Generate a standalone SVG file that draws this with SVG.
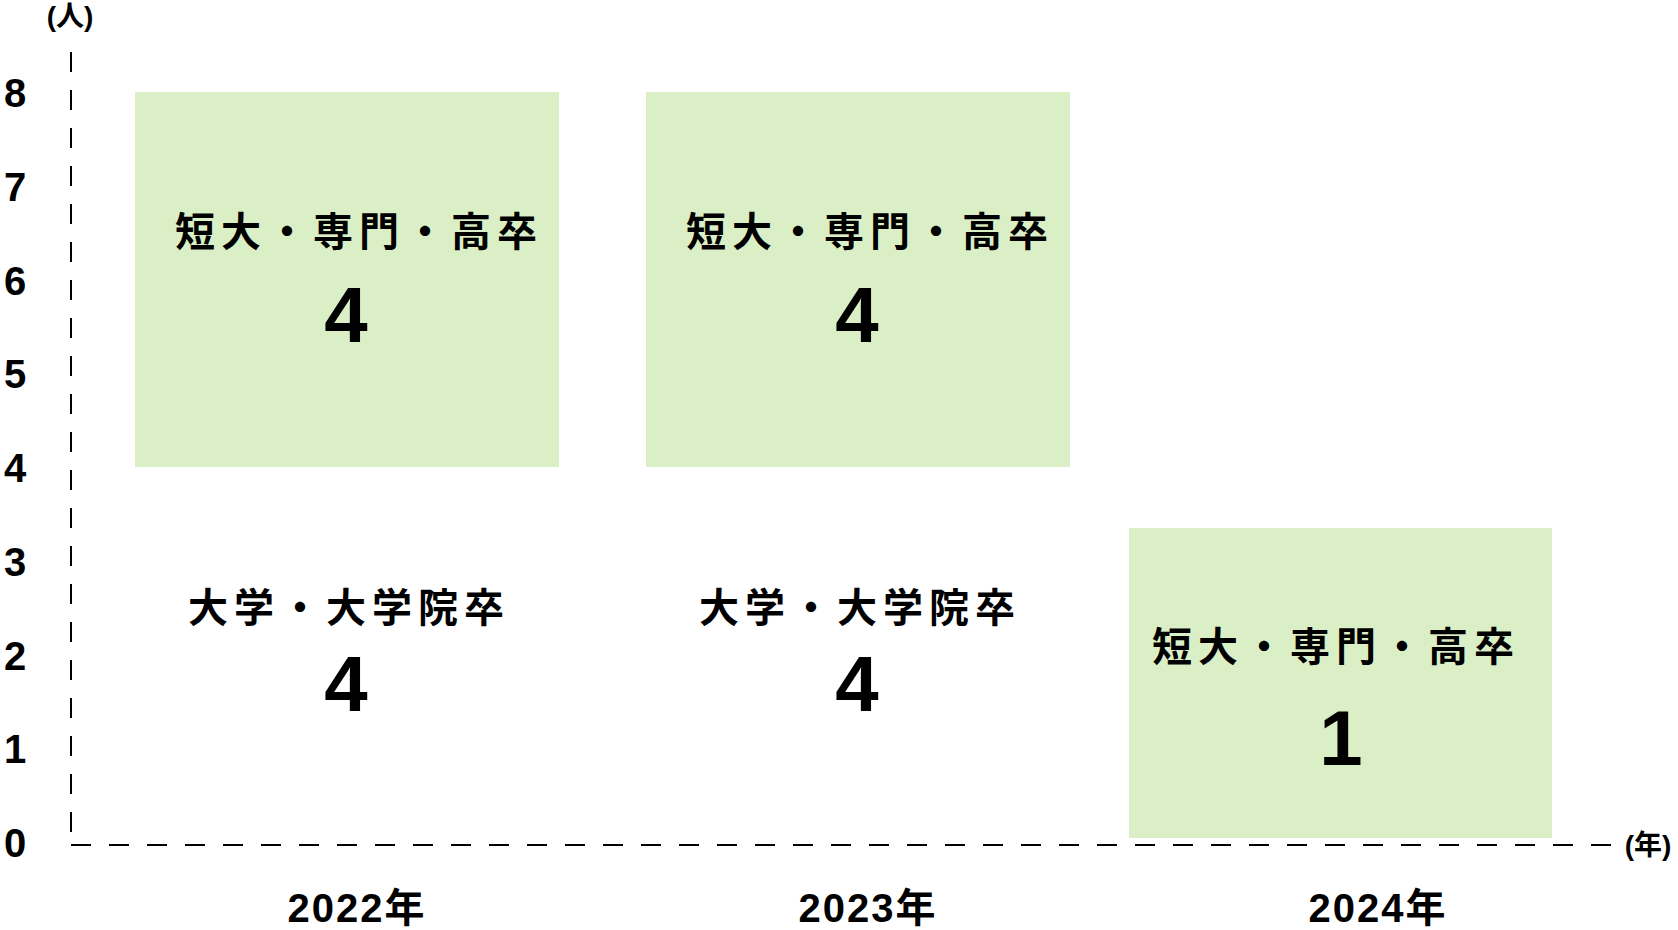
<svg xmlns="http://www.w3.org/2000/svg" width="1678" height="930" viewBox="0 0 1678 930">
<style>
.t{font-family:"Liberation Sans","Noto Sans CJK JP",sans-serif;font-weight:bold;fill:#000;text-anchor:middle}
.tick{font-size:40px}
.lab{font-size:40px;letter-spacing:6px}
.num{font-size:78px}
.yr{font-size:40px;letter-spacing:2px}
.box{fill:#daefc5}
.ax{stroke:#000;stroke-width:2;stroke-dasharray:20 18;fill:none}
</style>
<rect width="1678" height="930" fill="#fff"/>
<g id="axes">
<line class="ax" x1="71" y1="52" x2="71" y2="845"/>
<line class="ax" x1="71" y1="845" x2="1612" y2="845"/>
<text class="t" x="70" y="26" font-size="28">(人)</text>
<text class="t" x="1648" y="855" font-size="28">(年)</text>
</g>
<g id="ticks">
<text class="t tick" x="15" y="107">8</text>
<text class="t tick" x="15" y="201">7</text>
<text class="t tick" x="15" y="295">6</text>
<text class="t tick" x="15" y="388">5</text>
<text class="t tick" x="15" y="482">4</text>
<text class="t tick" x="15" y="576">3</text>
<text class="t tick" x="15" y="670">2</text>
<text class="t tick" x="15" y="763">1</text>
<text class="t tick" x="15" y="857">0</text>
</g>
<g id="bar2022top"><rect class="box" x="135" y="92" width="424" height="375"/>
<text class="t lab" x="359" y="246">短大・専門・高卒</text>
<text class="t num" x="346" y="342">4</text></g>
<g id="bar2022bottom">
<text class="t lab" x="349" y="622">大学・大学院卒</text>
<text class="t num" x="346" y="711">4</text></g>
<g id="bar2023top"><rect class="box" x="646" y="92" width="424" height="375"/>
<text class="t lab" x="870" y="246">短大・専門・高卒</text>
<text class="t num" x="857" y="342">4</text></g>
<g id="bar2023bottom">
<text class="t lab" x="860" y="622">大学・大学院卒</text>
<text class="t num" x="857" y="711">4</text></g>
<g id="bar2024"><rect class="box" x="1129" y="528" width="423" height="310"/>
<text class="t lab" x="1336" y="661">短大・専門・高卒</text>
<text class="t num" x="1341" y="765">1</text></g>
<g id="years">
<text class="t yr" x="357" y="922">2022年</text>
<text class="t yr" x="868" y="922">2023年</text>
<text class="t yr" x="1378" y="922">2024年</text>
</g>
</svg>
